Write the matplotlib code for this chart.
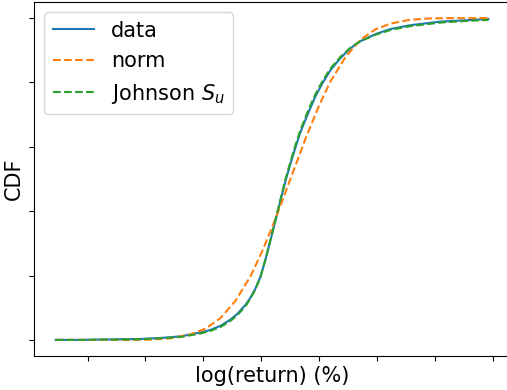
import matplotlib
matplotlib.use("Agg")
import matplotlib.pyplot as plt

# empirical CDF of log returns
data_x = [-7.10, -6.24, -5.55, -4.86, -4.17, -3.48, -2.79, -2.10, -1.76, -1.41,
          -1.07, -0.83, -0.55, -0.38, -0.21, -0.03, 0.14, 0.31, 0.48, 0.66,
          0.83, 1.00, 1.17, 1.34, 1.59, 1.86, 2.10, 2.38, 2.72, 3.07,
          3.41, 3.93, 4.45, 5.14, 6.17, 7.21, 7.83]
data_cdf = [0.000, 0.000, 0.001, 0.002, 0.003, 0.006, 0.011, 0.023, 0.031, 0.044,
            0.063, 0.081, 0.109, 0.131, 0.159, 0.197, 0.250, 0.309, 0.369, 0.434,
            0.494, 0.547, 0.597, 0.644, 0.700, 0.756, 0.797, 0.838, 0.875, 0.906,
            0.928, 0.950, 0.966, 0.978, 0.989, 0.994, 0.997]

# fitted normal CDF
norm_x = [-7.10, -5.55, -4.52, -3.83, -3.14, -2.45, -1.93, -1.41, -0.90, -0.38,
          0.03, 0.48, 1.00, 1.52, 1.97, 2.38, 2.90, 3.41, 3.93, 4.45,
          5.14, 5.83, 6.69, 7.83]
norm_cdf = [0.000, 0.000, 0.000, 0.001, 0.005, 0.017, 0.035, 0.068, 0.121, 0.197,
            0.276, 0.375, 0.500, 0.625, 0.724, 0.803, 0.879, 0.932, 0.965, 0.983,
            0.995, 0.999, 1.000, 1.000]

# fitted Johnson SU CDF
su_x = data_x
su_cdf = [0.000, 0.000, 0.001, 0.001, 0.002, 0.005, 0.009, 0.020, 0.028, 0.040,
          0.059, 0.077, 0.105, 0.128, 0.157, 0.196, 0.250, 0.310, 0.372, 0.438,
          0.499, 0.553, 0.604, 0.651, 0.708, 0.763, 0.803, 0.843, 0.879, 0.908,
          0.928, 0.948, 0.963, 0.975, 0.986, 0.992, 0.994]

xticks = [-6, -4, -2, 0, 2, 4, 6, 8]
yticks = [0.0, 0.2, 0.4, 0.6, 0.8, 1.0]

fig = plt.figure(figsize=(5.07, 3.90), dpi=100)
ax = fig.add_axes([34 / 507, 34 / 390, 476 / 507, 354 / 390])

ax.plot(data_x, data_cdf, color="C0", lw=1.5, label="data")
ax.plot(norm_x, norm_cdf, color="C1", ls="--", lw=1.5, label="norm")
ax.plot(su_x, su_cdf, color="C2", ls="--", lw=1.5, label="Johnson $S_u$")

ax.set_xticks(xticks)
ax.set_yticks(yticks)
ax.tick_params(labelbottom=False, labelleft=False)
ax.set_xlabel("log(return) (%)", fontsize=15)
ax.set_ylabel("CDF", fontsize=15)
ax.legend(loc="upper left", fontsize=15)

fig.savefig("out.png", dpi=100)
